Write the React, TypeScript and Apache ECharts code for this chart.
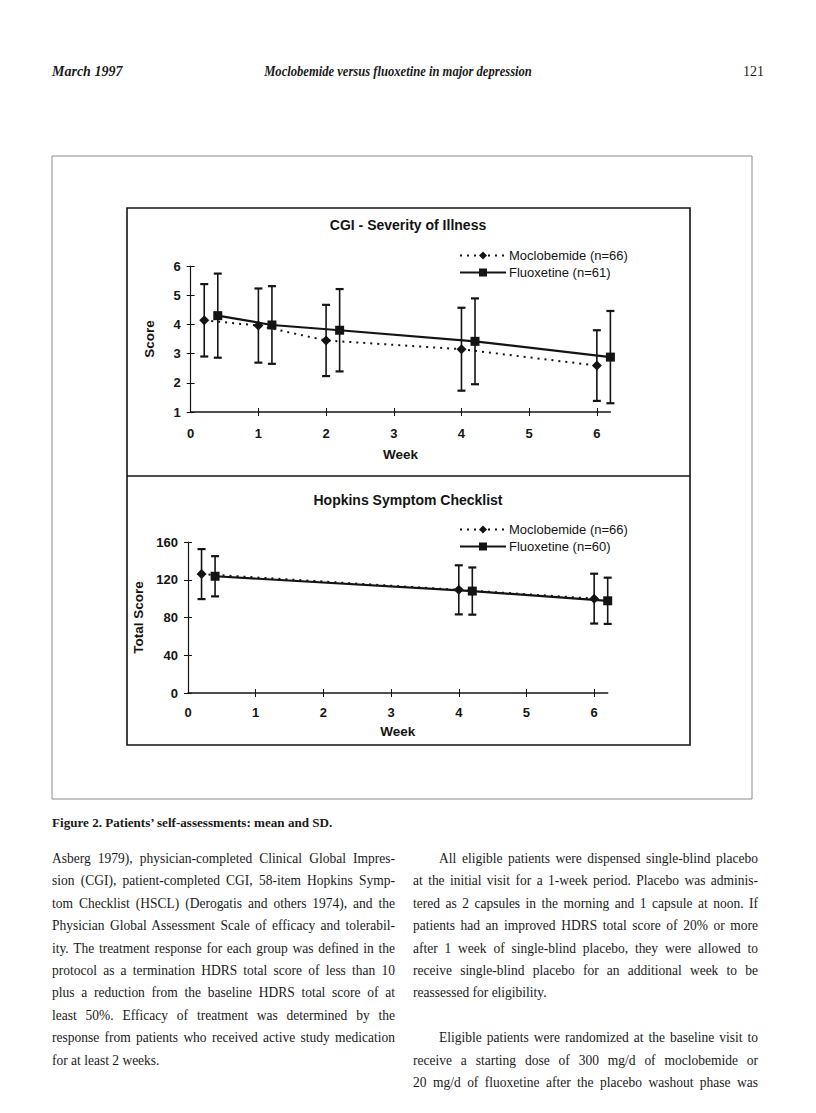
import React, { useEffect, useRef } from "react";
import * as echarts from "echarts";

// ---------- data ----------
const weekLabels = [0, 1, 2, 3, 4, 5, 6];
const weekTicks = [1, 2, 3, 4, 5, 6];

const cgiMocloWeek = [0.2, 1, 2, 4, 6];
const cgiMocloMean = [4.14, 3.96, 3.45, 3.15, 2.59];
const cgiMocloSD = [1.24, 1.27, 1.22, 1.42, 1.21];
const cgiFluoxWeek = [0.4, 1.2, 2.2, 4.2, 6.2];
const cgiFluoxMean = [4.3, 3.98, 3.8, 3.42, 2.88];
const cgiFluoxSD = [1.44, 1.33, 1.41, 1.47, 1.58];

const hsclMocloWeek = [0.2, 4, 6];
const hsclMocloMean = [126, 109.3, 100];
const hsclMocloSD = [26.5, 26, 26.4];
const hsclFluoxWeek = [0.4, 4.2, 6.2];
const hsclFluoxMean = [123.7, 108, 97.7];
const hsclFluoxSD = [21.3, 25, 24.5];

const cgiTitle = "CGI - Severity of Illness";
const hsclTitle = "Hopkins Symptom Checklist";
const cgiMocloName = "Moclobemide (n=66)";
const cgiFluoxName = "Fluoxetine (n=61)";
const hsclMocloName = "Moclobemide (n=66) ";
const hsclFluoxName = "Fluoxetine (n=60)";

const headerLeft = "March 1997";
const headerMid = "Moclobemide versus fluoxetine in major depression";
const headerRight = "121";
const caption = "Figure 2. Patients\u2019 self-assessments: mean and SD.";

const leftCol = [
  "Asberg 1979), physician-completed Clinical Global Impres-",
  "sion (CGI), patient-completed CGI, 58-item Hopkins Symp-",
  "tom Checklist (HSCL) (Derogatis and others 1974), and the",
  "Physician Global Assessment Scale of efficacy and tolerabil-",
  "ity. The treatment response for each group was defined in the",
  "protocol as a termination HDRS total score of less than 10",
  "plus a reduction from the baseline HDRS total score of at",
  "least 50%. Efficacy of treatment was determined by the",
  "response from patients who received active study medication",
  "for at least 2 weeks.",
];
const rightCol = [
  "All eligible patients were dispensed single-blind placebo",
  "at the initial visit for a 1-week period. Placebo was adminis-",
  "tered as 2 capsules in the morning and 1 capsule at noon. If",
  "patients had an improved HDRS total score of 20% or more",
  "after 1 week of single-blind placebo, they were allowed to",
  "receive single-blind placebo for an additional week to be",
  "reassessed for eligibility.",
  "",
  "Eligible patients were randomized at the baseline visit to",
  "receive a starting dose of 300 mg/d of moclobemide or",
  "20 mg/d of fluoxetine after the placebo washout phase was",
];
const leftLast = [9];
const rightLast = [6, 7];
const leftIndent = [] as number[];
const rightIndent = [0, 8];

// ---------- helpers ----------
const SANS = "Liberation Sans, Arial, sans-serif";
const INK = "#141414";

const zip3 = (a: number[], b: number[], c: number[]) => a.map((v, i) => [v, b[i], c[i]]);
const zip2 = (a: number[], b: number[]) => a.map((v, i) => [v, b[i]]);

const errRender = (params: any, api: any) => {
  const x = api.value(0);
  const m = api.value(1);
  const sd = api.value(2);
  const t = api.coord([x, m + sd]);
  const b = api.coord([x, m - sd]);
  const w = 4;
  const st = { stroke: INK, lineWidth: 1.6 };
  return {
    type: "group",
    children: [
      { type: "line", shape: { x1: t[0], y1: t[1], x2: b[0], y2: b[1] }, style: st },
      { type: "line", shape: { x1: t[0] - w, y1: t[1], x2: t[0] + w, y2: t[1] }, style: { stroke: INK, lineWidth: 2.2 } },
      { type: "line", shape: { x1: b[0] - w, y1: b[1], x2: b[0] + w, y2: b[1] }, style: { stroke: INK, lineWidth: 2.2 } },
    ],
  };
};

const xAxisPair = (gridIndex: number, labelMargin: number, nameGap: number) => [
  {
    type: "value",
    gridIndex,
    position: "bottom",
    min: 0,
    max: 6.2,
    name: "Week",
    nameLocation: "middle",
    nameGap,
    nameTextStyle: { fontFamily: SANS, fontSize: 13.5, fontWeight: "bold", color: INK },
    axisLine: { show: true, lineStyle: { color: INK, width: 1.5 } },
    axisTick: { show: true, length: 4, customValues: weekTicks, lineStyle: { color: INK, width: 1 } },
    axisLabel: {
      show: true,
      customValues: weekLabels,
      margin: labelMargin,
      fontFamily: SANS,
      fontSize: 13,
      fontWeight: "bold",
      color: INK,
    },
    splitLine: { show: false },
  },
  {
    type: "value",
    gridIndex,
    position: "bottom",
    min: 0,
    max: 6.2,
    axisLine: { show: false },
    axisTick: { show: true, inside: true, length: 4, customValues: weekTicks, lineStyle: { color: INK, width: 1 } },
    axisLabel: { show: false },
    splitLine: { show: false },
  },
];

const yAxisPair = (gridIndex: number, min: number, max: number, interval: number, name: string, nameGap: number) => [
  {
    type: "value",
    gridIndex,
    min,
    max,
    interval,
    name,
    nameLocation: "middle",
    nameGap,
    nameTextStyle: { fontFamily: SANS, fontSize: 13.5, fontWeight: "bold", color: INK },
    axisLine: { show: true, lineStyle: { color: INK, width: 1.2 } },
    axisTick: { show: true, length: 4, lineStyle: { color: INK, width: 1 } },
    axisLabel: { margin: 10, fontFamily: SANS, fontSize: 13, fontWeight: "bold", color: INK },
    splitLine: { show: false },
  },
  {
    type: "value",
    gridIndex,
    min,
    max,
    interval,
    position: "left",
    axisLine: { show: false },
    axisTick: { show: true, inside: true, length: 4, lineStyle: { color: INK, width: 1 } },
    axisLabel: { show: false },
    splitLine: { show: false },
  },
];

const lineSeries = (name: string, data: number[][], xi: number, yi: number, moclo: boolean) => ({
  type: "line",
  name,
  xAxisIndex: xi,
  yAxisIndex: yi,
  data,
  symbol: moclo ? "diamond" : "rect",
  symbolSize: moclo ? 10 : 9,
  itemStyle: { color: INK },
  lineStyle: moclo
    ? { color: INK, width: 2, type: [2, 5] }
    : { color: INK, width: 2.2, type: "solid" },
  z: 3,
});

const errSeries = (data: number[][], xi: number, yi: number) => ({
  type: "custom",
  xAxisIndex: xi,
  yAxisIndex: yi,
  data,
  encode: { x: 0, y: 1 },
  renderItem: errRender,
  z: 2,
});

const legendStyle = (top: number, data: string[]) => ({
  orient: "vertical",
  left: 459,
  top,
  padding: 0,
  itemGap: 4,
  itemWidth: 46,
  itemHeight: 10,
  data,
  textStyle: { fontFamily: SANS, fontSize: 13, color: INK, padding: [0, 0, 0, -2] },
  selectedMode: false,
});

const textEl = (text: string, x: number, y: number, size: number) => ({
  type: "text",
  x,
  y,
  style: {
    text,
    align: "center",
    verticalAlign: "middle",
    fontFamily: SANS,
    fontSize: size,
    fontWeight: "bold",
    fill: INK,
  },
});

const option: any = {
  animation: false,
  backgroundColor: "#ffffff",
  grid: [
    { left: 190.7, top: 266, width: 419.7, height: 146 },
    { left: 188, top: 542, width: 419.7, height: 151 },
  ],
  xAxis: [...xAxisPair(0, 15, 35), ...xAxisPair(1, 13, 31)],
  yAxis: [...yAxisPair(0, 1, 6, 1, "Score", 34), ...yAxisPair(1, 0, 160, 40, "Total Score", 32)],
  legend: [
    legendStyle(249, [cgiMocloName, cgiFluoxName]),
    legendStyle(523, [hsclMocloName, hsclFluoxName]),
  ],
  series: [
    errSeries(zip3(cgiMocloWeek, cgiMocloMean, cgiMocloSD), 0, 0),
    errSeries(zip3(cgiFluoxWeek, cgiFluoxMean, cgiFluoxSD), 0, 0),
    lineSeries(cgiMocloName, zip2(cgiMocloWeek, cgiMocloMean), 0, 0, true),
    lineSeries(cgiFluoxName, zip2(cgiFluoxWeek, cgiFluoxMean), 0, 0, false),
    errSeries(zip3(hsclMocloWeek, hsclMocloMean, hsclMocloSD), 2, 2),
    errSeries(zip3(hsclFluoxWeek, hsclFluoxMean, hsclFluoxSD), 2, 2),
    lineSeries(hsclMocloName, zip2(hsclMocloWeek, hsclMocloMean), 2, 2, true),
    lineSeries(hsclFluoxName, zip2(hsclFluoxWeek, hsclFluoxMean), 2, 2, false),
  ],
  graphic: [
    {
      type: "rect",
      shape: { x: 52, y: 156, width: 700, height: 643 },
      style: { fill: "none", stroke: "#8a8a8a", lineWidth: 1 },
      silent: true,
    },
    {
      type: "rect",
      shape: { x: 127, y: 208, width: 563, height: 537 },
      style: { fill: "none", stroke: INK, lineWidth: 1.6 },
      silent: true,
    },
    {
      type: "line",
      shape: { x1: 127, y1: 476, x2: 690, y2: 476 },
      style: { stroke: INK, lineWidth: 1.6 },
      silent: true,
    },
    textEl(cgiTitle, 408, 225, 14),
    textEl(hsclTitle, 408, 500, 14),
  ],
};

const serif = "Liberation Serif, 'Times New Roman', serif";

function Column({ lines, last, indent, left, top, width }: any) {
  const scale = 0.87;
  return (
    <div
      style={{
        position: "absolute",
        left,
        top,
        width: width / scale,
        transform: `scaleX(${scale})`,
        transformOrigin: "0 0",
        fontFamily: serif,
        fontSize: 15.5,
        color: "#1a1a1a",
        lineHeight: "22.4px",
      }}
    >
      {lines.map((l: string, i: number) => (
        <div
          key={i}
          style={{
            height: 22.4,
            whiteSpace: "nowrap",
            textAlign: "justify",
            textAlignLast: last.includes(i) ? "left" : "justify",
            textIndent: indent.includes(i) ? 30 : 0,
            overflow: "visible",
          }}
        >
          {l || "\u00a0"}
        </div>
      ))}
    </div>
  );
}

export default function App() {
  const ref = useRef<HTMLDivElement>(null);
  useEffect(() => {
    if (!ref.current) return;
    const chart = echarts.init(ref.current, null, { renderer: "svg", width: 816, height: 1113 });
    chart.setOption(option);
    return () => chart.dispose();
  }, []);
  return (
    <div style={{ position: "absolute", left: 0, top: 0, width: 816, height: 1113, background: "#fff", overflow: "hidden" }}>
      <div ref={ref} style={{ position: "absolute", left: 0, top: 0, width: 816, height: 1113 }} />
      <div
        style={{
          position: "absolute",
          left: 52,
          top: 64,
          fontFamily: serif,
          fontStyle: "italic",
          fontWeight: "bold",
          fontSize: 14,
          color: "#1a1a1a",
          whiteSpace: "nowrap",
        }}
      >
        {headerLeft}
      </div>
      <div
        style={{
          position: "absolute",
          left: 398,
          top: 64,
          transform: "translateX(-50%) scaleX(0.9)",
          fontFamily: serif,
          fontStyle: "italic",
          fontWeight: "bold",
          fontSize: 14,
          color: "#1a1a1a",
          whiteSpace: "nowrap",
        }}
      >
        {headerMid}
      </div>
      <div
        style={{
          position: "absolute",
          right: 816 - 764,
          top: 64,
          fontFamily: serif,
          fontSize: 14,
          color: "#1a1a1a",
          whiteSpace: "nowrap",
        }}
      >
        {headerRight}
      </div>
      <div
        style={{
          position: "absolute",
          left: 52,
          top: 815,
          fontFamily: serif,
          fontWeight: "bold",
          fontSize: 13.5,
          transform: "scaleX(0.97)",
          transformOrigin: "0 0",
          color: "#1a1a1a",
          whiteSpace: "nowrap",
        }}
      >
        {caption}
      </div>
      <Column lines={leftCol} last={leftLast} indent={leftIndent} left={52} top={847} width={343} />
      <Column lines={rightCol} last={rightLast} indent={rightIndent} left={413} top={847} width={345} />
    </div>
  );
}
